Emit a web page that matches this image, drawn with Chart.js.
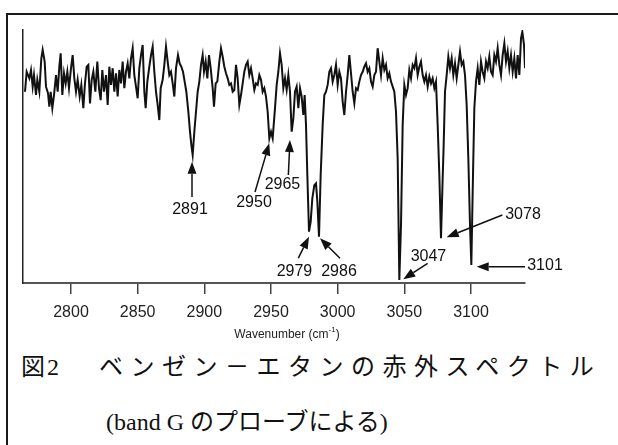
<!DOCTYPE html>
<html lang="ja">
<head>
<meta charset="utf-8">
<title>ベンゼン－エタンの赤外スペクトル</title>
<script src="https://cdn.jsdelivr.net/npm/chart.js@4.4.1/dist/chart.umd.min.js"></script>
<style>
  html, body { margin: 0; padding: 0; background: #fff; overflow: hidden; }
  body { width: 618px; height: 445px; position: relative; }
  #frame { position: absolute; left: 6px; top: 13px; width: 700px; height: 500px;
           border-left: 2px solid #1a1a1a; border-top: 2px solid #1a1a1a; }
  #chart { position: absolute; left: 0; top: 0; }
  .cap { position: absolute; font-family: "Liberation Serif", "Noto Sans CJK JP", serif;
         font-size: 24px; line-height: 24px; color: #111; white-space: nowrap; }
</style>
</head>
<body>
<div id="frame"></div>
<canvas id="chart" width="618" height="345"></canvas>
<div class="cap" style="left:21px; top:355px;">図</div>
<div class="cap" style="left:47px; top:355px;">2</div>
<div class="cap" style="left:99px; top:355px; letter-spacing:7.5px;">ベンゼン－エタンの赤外スペクトル</div>
<div class="cap" style="left:106px; top:410px;">(band G のプローブによる)</div>

<script>
// --- DADOS DO ESPECTRO ---
const wavenumber = [
  2765.5, 2766.75, 2768.75, 2770, 2771.25, 2772.25, 2773.75, 2774.75, 2776.25, 2777.75,
  2778.75, 2780.25, 2781.25, 2782.75, 2783.75, 2784.75, 2786, 2787.25, 2788.75, 2790,
  2791.25, 2792.25, 2793.5, 2794.75, 2796, 2797.25, 2798.5, 2800, 2801.25, 2802.5,
  2803.75, 2805, 2806.5, 2807.75, 2809.25, 2810.5, 2811.75, 2813, 2814.25, 2815.5,
  2816.75, 2818.25, 2819.75, 2821, 2822.25, 2823.5, 2824.75, 2826.25, 2827.5, 2828.75,
  2830, 2831.25, 2832.5, 2833.75, 2835, 2836.25, 2837.5, 2838.75, 2840, 2841.25,
  2842.5, 2843.75, 2845, 2846.25, 2847.5, 2848.75, 2850, 2851.25, 2852.5, 2853.75,
  2855, 2856, 2857.25, 2858.75, 2860, 2861.25, 2862.5, 2863.75, 2865, 2866.25,
  2867.25, 2868.75, 2870, 2871.25, 2872.5, 2873.75, 2875, 2876.25, 2877.5, 2878.75,
  2880.25, 2881.5, 2882.75, 2884, 2885.25, 2886.5, 2888, 2889.25, 2890.25, 2891.25,
  2892.5, 2893.75, 2895, 2896.25, 2897.5, 2898.75, 2899.75, 2901, 2902.25, 2903.5,
  2904.75, 2906.25, 2907.25, 2908.5, 2909.75, 2911.25, 2912.5, 2913.75, 2915, 2916.25,
  2917.5, 2918.75, 2920, 2921.25, 2922.5, 2923.75, 2925, 2926.25, 2927.5, 2928.75,
  2930, 2931.25, 2932.5, 2933.75, 2935, 2936.25, 2937.5, 2938.75, 2940, 2941.25,
  2942.5, 2943.75, 2945, 2946.25, 2947.5, 2948.75, 2950, 2951.25, 2953, 2954.25,
  2955.5, 2956.75, 2958, 2959.25, 2960.5, 2961.75, 2963, 2964.25, 2965.5, 2966.75,
  2968, 2969.25, 2970.5, 2971.75, 2973, 2974.25, 2975.25, 2976.25, 2977.25, 2978.5,
  2979.75, 2981, 2982.5, 2983.75, 2984.75, 2986, 2987.25, 2988.75, 2990, 2991.25,
  2992.5, 2993.75, 2995, 2996.25, 2997.5, 2998.75, 3000, 3001.25, 3002.5, 3003.75,
  3005, 3006.25, 3007.5, 3008.75, 3010, 3011.25, 3012.5, 3013.75, 3015, 3016.25,
  3017.5, 3018.75, 3020, 3021.25, 3022.5, 3023.75, 3025, 3026.25, 3027.5, 3028.75,
  3030, 3031.25, 3032.5, 3033.75, 3035, 3036.25, 3037.5, 3038.75, 3040, 3041.25,
  3042.5, 3043.75, 3045, 3046.25, 3047.5, 3048.75, 3050, 3051.25, 3052.5, 3053.75,
  3055, 3056.25, 3057.5, 3058.75, 3060, 3061.25, 3062.5, 3063.75, 3065, 3066.25,
  3067.5, 3068.75, 3070, 3071.25, 3072.5, 3073.75, 3075, 3076.25, 3077.5, 3078.75,
  3079.5, 3080.5, 3081.75, 3083, 3084.25, 3085.5, 3086.75, 3088, 3089.25, 3090.5,
  3091.75, 3093, 3094.25, 3095.5, 3096.75, 3098, 3099.25, 3100.25, 3101.5, 3102.5,
  3103.75, 3105, 3106.25, 3107.5, 3108.75, 3110, 3111.25, 3112.5, 3113.75, 3115,
  3116.25, 3117.5, 3118.75, 3120, 3121.25, 3122.5, 3123.75, 3125, 3126.25, 3127.5,
  3128.75, 3130, 3131.25, 3132.5, 3133.75, 3135, 3136.25, 3137.5, 3138.5, 3139.75,
  3140.5
];

const transmittance = [
  75.6, 83.5, 80.9, 84.2, 77.6, 82.2, 74.3, 80.3, 75.6, 88.8,
  92.1, 87.5, 77.6, 75.0, 69.7, 75.6, 69.1, 74.3, 82.2, 75.6,
  85.5, 90.8, 74.3, 82.9, 78.9, 83.5, 77.0, 84.9, 90.1, 80.9,
  75.6, 80.3, 73.7, 78.3, 69.1, 78.9, 85.5, 86.2, 71.0, 80.3,
  83.5, 75.6, 87.5, 77.0, 72.3, 84.2, 75.6, 82.2, 70.4, 85.5,
  78.3, 84.9, 75.6, 82.9, 73.7, 84.2, 78.9, 87.5, 77.0, 83.5,
  86.8, 80.9, 88.8, 92.8, 82.2, 77.6, 73.0, 84.9, 90.1, 94.1,
  75.6, 69.1, 79.6, 85.5, 90.1, 93.4, 83.5, 75.6, 70.4, 64.4,
  77.0, 80.3, 86.2, 93.4, 87.5, 82.2, 83.5, 78.9, 73.7, 84.9,
  90.1, 86.8, 85.5, 83.5, 79.6, 75.6, 67.7, 59.8, 54.6, 50.6,
  59.8, 67.7, 75.6, 79.6, 86.2, 90.1, 83.5, 87.5, 80.9, 90.1,
  84.9, 77.0, 69.7, 78.9, 79.6, 87.5, 92.8, 89.5, 85.5, 82.9,
  80.9, 78.3, 78.9, 75.6, 76.3, 86.2, 80.9, 70.4, 74.3, 78.9,
  83.5, 86.2, 87.5, 82.2, 84.9, 80.9, 76.3, 78.9, 78.3, 82.2,
  80.3, 75.6, 77.0, 73.7, 67.7, 57.2, 59.8, 57.2, 69.1, 78.3,
  83.5, 90.8, 86.2, 77.0, 80.9, 76.3, 82.2, 75.6, 59.8, 65.1,
  75.6, 77.6, 69.1, 77.0, 73.7, 66.4, 74.3, 62.5, 42.7, 20.3,
  24.2, 33.5, 38.7, 39.4, 32.2, 18.3, 42.7, 62.5, 74.3, 75.6,
  78.3, 83.5, 84.9, 79.6, 82.2, 86.2, 78.3, 83.5, 80.9, 71.7,
  66.4, 75.6, 82.2, 90.1, 82.9, 75.6, 71.0, 77.0, 76.3, 79.6,
  82.2, 83.5, 85.5, 86.8, 83.5, 84.9, 79.6, 77.6, 82.2, 83.5,
  92.8, 87.5, 82.2, 88.8, 84.2, 86.2, 80.9, 82.9, 79.6, 77.6,
  75.6, 67.7, 49.3, 1.2, 22.9, 62.5, 78.3, 74.3, 77.0, 84.2,
  80.9, 86.2, 84.9, 88.8, 82.2, 85.5, 87.5, 82.2, 79.6, 82.2,
  77.6, 81.6, 78.9, 80.9, 77.0, 79.6, 62.5, 42.7, 17.7, 41.4,
  54.6, 75.6, 82.2, 89.5, 84.9, 88.8, 82.2, 86.8, 80.9, 86.2,
  91.5, 86.2, 87.5, 82.2, 70.4, 49.3, 22.9, 7.1, 42.7, 69.1,
  79.6, 84.9, 78.3, 87.5, 83.5, 80.9, 87.5, 84.9, 89.5, 83.5,
  82.2, 90.1, 87.5, 92.8, 86.2, 82.2, 90.1, 94.7, 87.5, 91.5,
  84.9, 90.1, 83.5, 88.8, 80.9, 90.1, 82.2, 96.7, 99.3, 94.1,
  84.9
];

const tickValues = [2800, 2850, 2900, 2950, 3000, 3050, 3100];

// picos marcados com setas (posições em cm-1 / transmitância)
const peakLabels = ['2891', '2950', '2965', '2979', '2986', '3047', '3078', '3101'];
const arrowTipX  = [2890.75, 2948.7, 2964.25, 2978.5, 2986.75, 3049.2, 3081.75, 3104.25];
const arrowTipY  = [47.9, 55.2, 56.5, 18.3, 17.7, 1.5, 18.1, 6.4];
const arrowTailX = [2890.75, 2938, 2963, 2970.5, 3001.75, 3067.5, 3123.5, 3140.5];
const arrowTailY = [34.0, 36.0, 42.7, 9.8, 9.8, 7.8, 26.9, 6.4];
const labelX     = [2889.25, 2937.25, 2958.6, 2967.6, 3001, 3068.1, 3139, 3155.5];
const labelY     = [29.2, 31.6, 38.7, 4.7, 4.7, 10.4, 26.9, 6.7];

const FONT = '"Liberation Sans", Arial, Helvetica, sans-serif';

// --- SETAS, RÓTULOS E TÍTULO DO EIXO ---
const peakArrows = {
  id: 'peakArrows',
  afterDraw(chart) {
    const { ctx, scales: { x, y }, chartArea } = chart;
    ctx.save();
    ctx.strokeStyle = '#111';
    ctx.fillStyle = '#111';
    ctx.lineWidth = 1.5;

    peakLabels.forEach((label, i) => {
      const tx = x.getPixelForValue(arrowTipX[i]);
      const ty = y.getPixelForValue(arrowTipY[i]);
      const sx = x.getPixelForValue(arrowTailX[i]);
      const sy = y.getPixelForValue(arrowTailY[i]);
      const ang = Math.atan2(ty - sy, tx - sx);
      const head = 12, half = 4.5;
      const bx = tx - head * Math.cos(ang);
      const by = ty - head * Math.sin(ang);

      ctx.beginPath();
      ctx.moveTo(sx, sy);
      ctx.lineTo(bx, by);
      ctx.stroke();

      ctx.beginPath();
      ctx.moveTo(tx, ty);
      ctx.lineTo(bx + half * Math.sin(ang), by - half * Math.cos(ang));
      ctx.lineTo(bx - half * Math.sin(ang), by + half * Math.cos(ang));
      ctx.closePath();
      ctx.fill();

      ctx.font = '16px ' + FONT;
      ctx.textAlign = 'center';
      ctx.textBaseline = 'middle';
      ctx.fillText(label, x.getPixelForValue(labelX[i]), y.getPixelForValue(labelY[i]));
    });

    // Wavenumber (cm-1)
    const main = 'Wavenumber (cm', sup = '-1', close = ')';
    ctx.fillStyle = '#222';
    ctx.textBaseline = 'middle';
    ctx.textAlign = 'left';
    ctx.font = '12px ' + FONT;
    const w1 = ctx.measureText(main).width;
    const w3 = ctx.measureText(close).width;
    ctx.font = '8px ' + FONT;
    const w2 = ctx.measureText(sup).width;
    const total = w1 + w2 + w3;
    const cx = chartArea.left + 264;
    const ty = chartArea.bottom + 52;
    let px = cx - total / 2;
    ctx.font = '12px ' + FONT;
    ctx.fillText(main, px, ty);
    px += w1;
    ctx.font = '8px ' + FONT;
    ctx.fillText(sup, px, ty - 5);
    px += w2;
    ctx.font = '12px ' + FONT;
    ctx.fillText(close, px, ty);
    ctx.restore();
  }
};

const ctx = document.getElementById('chart');
new Chart(ctx, {
  type: 'line',
  data: {
    datasets: [{
      data: wavenumber.map((w, i) => ({ x: w, y: transmittance[i] })),
      borderColor: '#111',
      borderWidth: 2,
      pointRadius: 0,
      tension: 0,
      fill: false
    }]
  },
  options: {
    responsive: false,
    animation: false,
    devicePixelRatio: 1,
    layout: { padding: { left: 23, right: 93, top: 30, bottom: 0 } },
    plugins: {
      legend: { display: false },
      tooltip: { enabled: false }
    },
    scales: {
      x: {
        type: 'linear',
        min: 2764,
        max: 3140.5,
        afterBuildTicks: scale => { scale.ticks = tickValues.map(v => ({ value: v })); },
        afterFit: scale => { scale.height = 345 - 283; },
        ticks: {
          font: { family: FONT, size: 16 },
          color: '#222',
          padding: 9,
          maxRotation: 0,
          autoSkip: false,
          callback: v => String(v)
        },
        grid: {
          display: true,
          drawOnChartArea: false,
          drawTicks: true,
          tickLength: 11,
          color: '#444',
          lineWidth: 1.5
        },
        border: { display: true, color: '#555', width: 2 }
      },
      y: {
        min: 0,
        max: 100,
        ticks: { display: false },
        grid: { display: false },
        border: { display: true, color: '#222', width: 1.5 },
        afterFit: scale => { scale.width = 0; }
      }
    }
  },
  plugins: [peakArrows]
});
</script>
</body>
</html>
